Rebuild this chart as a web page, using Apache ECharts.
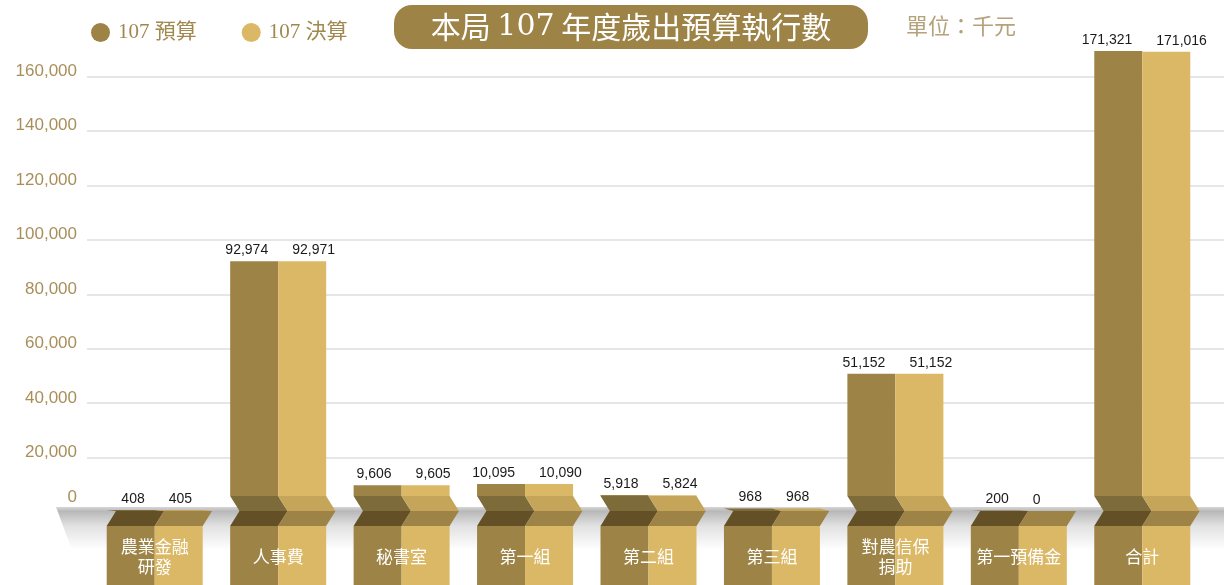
<!DOCTYPE html>
<html>
<head>
<meta charset="utf-8">
<script src="https://cdn.jsdelivr.net/npm/echarts@6/dist/echarts.min.js"></script>
<style>
  html, body { margin: 0; padding: 0; background: #fff; }
  #chart { width: 1224px; height: 585px; }
</style>
</head>
<body>
<div id="chart"></div>
<script>
// 分類與數值（單位：千元）
var categories = ['農業金融\n研發', '人事費', '秘書室', '第一組', '第二組', '第三組', '對農信保\n捐助', '第一預備金', '合計'];
var budget107 = [408, 92974, 9606, 10095, 5918, 968, 51152, 200, 171321];
var actual107 = [405, 92971, 9605, 10090, 5824, 968, 51152, 0, 171016];
var seriesNames = ['107 預算', '107 決算'];

var GOLD = '#9d8446';
var LIGHT_GOLD = '#dbb865';
var palettes = [
  { main: GOLD, up: '#7d6b3a', low: '#645026' },
  { main: LIGHT_GOLD, up: '#c4a55a', low: GOLD }
];

var fmt = function (v) { return Number(v).toLocaleString('en-US'); };

// 折角柱體
var makeRender = function (side) {
  var pal = palettes[side];
  return function (params, api) {
    var idx = api.value(0);
    var val = api.value(1);
    var top = api.coord([idx, val]);
    var base = api.coord([idx, 0]);
    var cx = base[0], y0 = base[1], yt = top[1];
    var w = 48, s = 9.3, h = 15;
    var x0 = side === 0 ? cx - w : cx;
    var x1 = x0 + w;
    var yA = y0 - h, yB = y0 + h;
    var children = [];
    if (yt < yA) {
      children.push({ type: 'rect', shape: { x: x0, y: yt, width: w, height: yA - yt }, style: { fill: pal.main } });
    }
    var pt = yt < yA ? yA : yt;
    if (pt < y0 - 0.5) {
      children.push({ type: 'polygon', shape: { points: [[x0, pt], [x1, pt], [x1 + s, y0], [x0 + s, y0]] }, style: { fill: pal.up } });
    }
    children.push({ type: 'polygon', shape: { points: [[x0 + s, y0], [x1 + s, y0], [x1, yB], [x0, yB]] }, style: { fill: pal.low } });
    children.push({ type: 'rect', shape: { x: x0, y: yB, width: w, height: 120 }, style: { fill: pal.main } });
    children.push({
      type: 'text',
      style: {
        text: fmt(val),
        x: side === 0 ? cx - 10 : cx + 14,
        y: yt - 4,
        align: side === 0 ? 'right' : 'left',
        verticalAlign: 'bottom',
        fill: '#1a1a1a',
        fontSize: 14,
        fontFamily: 'Liberation Sans'
      }
    });
    return { type: 'group', children: children };
  };
};

var chart = echarts.init(document.getElementById('chart'));

var option = {
  animation: false,
  legend: {
    left: 86,
    top: 17,
    itemWidth: 19,
    itemHeight: 19,
    itemGap: 45,
    icon: 'circle',
    data: seriesNames,
    textStyle: {
      fontSize: 21,
      color: '#a0884f',
      fontFamily: "'Liberation Serif', 'Noto Sans CJK TC'",
      padding: [0, 0, 0, 3]
    }
  },
  graphic: [
    {
      type: 'rect',
      z: 5,
      shape: { x: 394, y: 5, width: 474, height: 44, r: 18 },
      style: { fill: GOLD }
    },
    {
      type: 'text',
      z: 6,
      x: 631,
      y: 27,
      style: {
        text: '{a|本局 }{b|107}{a| 年度歲出預算執行數}',
        align: 'center',
        verticalAlign: 'middle',
        fill: '#fff',
        rich: {
          a: { fontSize: 30, fontFamily: 'Noto Sans CJK TC', fill: '#fff' },
          b: { fontSize: 30, fontFamily: 'DejaVu Serif', fill: '#fff' }
        }
      }
    },
    {
      type: 'text',
      z: 6,
      x: 906,
      y: 26,
      style: {
        text: '單位：千元',
        verticalAlign: 'middle',
        fill: '#b5a27a',
        fontSize: 22,
        fontFamily: 'Noto Sans CJK TC'
      }
    },
    {
      // 底座
      type: 'polygon',
      z: 1,
      shape: { points: [[56, 507], [1224, 507], [1224, 550], [72, 550]] },
      style: {
        fill: new echarts.graphic.LinearGradient(0, 0, 0, 1, [
          { offset: 0, color: '#d6d6d6' },
          { offset: 0.1, color: '#b8b8b8' },
          { offset: 0.45, color: '#e2e2e2' },
          { offset: 1, color: '#ffffff' }
        ])
      }
    }
  ],
  grid: [
    { left: 87, right: 0, top: 76.3, bottom: 72.8 },
    { left: 93, right: 20, top: 81.4, bottom: 74 }
  ],
  xAxis: [
    { gridIndex: 0, type: 'value', min: 0, max: 1, show: false },
    {
      gridIndex: 1,
      type: 'category',
      data: categories,
      z: 10,
      axisLine: { show: false },
      axisTick: { show: false },
      axisLabel: {
        interval: 0,
        color: '#fff',
        fontSize: 17,
        lineHeight: 20,
        fontFamily: 'Noto Sans CJK TC',
        verticalAlign: 'middle',
        margin: 46
      }
    }
  ],
  yAxis: [
    {
      gridIndex: 0,
      type: 'value',
      min: 0,
      max: 160000,
      interval: 20000,
      axisLine: { show: false },
      axisTick: { show: false },
      splitLine: { lineStyle: { color: '#e6e6e6', width: 2 } },
      axisLabel: {
        margin: 10,
        formatter: function (v) {
          return v === 0 ? '{z|0}' : '{n|' + fmt(v) + '}';
        },
        rich: {
          n: { fontSize: 17, color: '#a88f5a', fontFamily: 'Liberation Sans', padding: [0, 0, 10, 0] },
          z: { fontSize: 17, color: '#a88f5a', fontFamily: 'Liberation Sans', padding: [0, 0, 30, 0] }
        }
      }
    },
    { gridIndex: 1, type: 'value', min: 0, max: 160000, show: false }
  ],
  series: [
    {
      name: seriesNames[0],
      type: 'custom',
      xAxisIndex: 1,
      yAxisIndex: 1,
      itemStyle: { color: GOLD },
      renderItem: makeRender(0),
      encode: { x: 0, y: 1 },
      data: budget107.map(function (v, i) { return [i, v]; })
    },
    {
      name: seriesNames[1],
      type: 'custom',
      xAxisIndex: 1,
      yAxisIndex: 1,
      itemStyle: { color: LIGHT_GOLD },
      renderItem: makeRender(1),
      encode: { x: 0, y: 1 },
      data: actual107.map(function (v, i) { return [i, v]; })
    }
  ]
};

chart.setOption(option);
window.addEventListener('resize', function () { chart.resize(); });
</script>
</body>
</html>
